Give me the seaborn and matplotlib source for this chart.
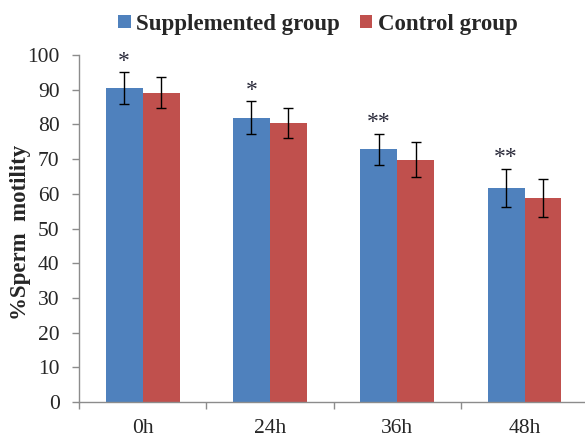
"""
Sperm motility over time: supplemented vs control group
"""

import pandas as pd
import seaborn as sns
import matplotlib.pyplot as plt
import numpy as np

# Data

times = ['0h', '24h', '36h', '48h']
groups = ['Supplemented group', 'Control group']
supplemented = [90.5, 82.0, 72.8, 61.7]
control = [89.2, 80.4, 69.9, 58.8]
supplemented_err = [4.5, 4.7, 4.5, 5.6]
control_err = [4.5, 4.2, 5.0, 5.4]
stars = ['*', '*', '**', '**']

df = pd.DataFrame({
    'Time': times * 2,
    'Group': [groups[0]] * 4 + [groups[1]] * 4,
    'Motility': supplemented + control,
})

# Plot

sns.set_style('white')
plt.rcParams['font.family'] = ['Liberation Serif', 'DejaVu Serif']

fig = plt.figure(figsize=(5.85, 4.37), dpi=100)
ax = fig.add_axes([0.135, 0.080, 0.865, 0.794])

sns.barplot(data=df, x='Time', y='Motility', hue='Group', order=times,
            hue_order=groups, palette=['#4F81BD', '#C0504D'], width=0.58,
            errorbar=None, saturation=1, linewidth=0, ax=ax)

# Error bars and significance stars, placed on the bars seaborn drew
errs = supplemented_err + control_err
bars = ax.patches[:8]
for bar, err in zip(bars, errs):
    xc = bar.get_x() + bar.get_width() / 2
    ax.errorbar(xc, bar.get_height(), yerr=err, color='black', lw=1,
                capsize=3.5, capthick=1)
for bar, err, s in zip(bars[:4], supplemented_err, stars):
    xc = bar.get_x() + bar.get_width() / 2
    ax.text(xc, bar.get_height() + err + 3.2, s, ha='center', va='center',
            fontsize=17, color='#2A2A3A')

ax.set_ylim(0, 100)
ax.set_xlim(-0.5, 3.475)
ax.set_yticks(np.arange(0, 101, 10))
ax.tick_params(axis='y', labelsize=15.5, left=True, length=5, width=1,
               color='#8C8C8C', direction='out', pad=9)
ax.tick_params(axis='x', labelsize=15.5, bottom=False, pad=9)
ax.set_xticks([-0.5, 0.5, 1.5, 2.5], minor=True)
ax.tick_params(axis='x', which='minor', bottom=True, length=5, width=1,
               color='#8C8C8C', direction='out')

sns.despine(ax=ax)
for side in ['left', 'bottom']:
    ax.spines[side].set_color('#8C8C8C')
    ax.spines[side].set_linewidth(1)

ax.set_xlabel('')
ax.set_ylabel('%Sperm  motility', fontsize=16.5, fontweight='bold')
ax.yaxis.set_label_coords(-0.095, 0.49)

ax.legend(loc='center', bbox_to_anchor=(0.472, 1.089), ncol=2,
          frameon=False, handlelength=0.55, handleheight=0.55,
          handletextpad=0.25, columnspacing=0.85,
          prop={'weight': 'bold', 'size': 16.5})

plt.savefig('out.png', dpi=100)
